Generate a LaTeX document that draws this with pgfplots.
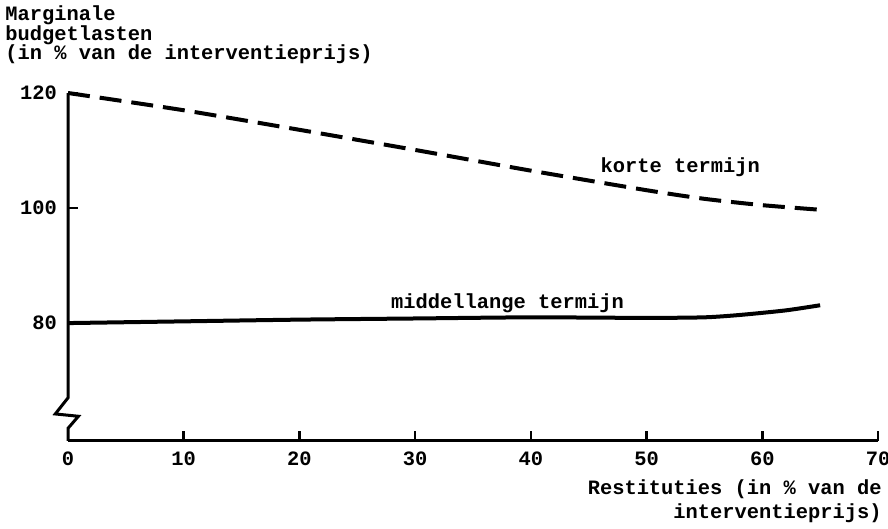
\documentclass[border=0pt]{standalone}
\usepackage{fontspec}
\setmainfont{Liberation Mono}
\usepackage{pgfplots}
\pgfplotsset{compat=1.18}
\begin{document}
\fontsize{10.2}{10}\selectfont\bfseries
\begin{tikzpicture}
\begin{axis}[
  name=main,
  scale only axis, width=405pt, height=174pt,
  xmin=0, xmax=70, ymin=59.5, ymax=120,
  axis x line*=bottom, axis y line*=left,
  axis line style={-, line width=1.5pt},
  y axis line style={draw=none},
  xtick={0,10,...,70}, ytick={80,100,120},
  tick align=inside, major tick length=5pt,
  tick style={line width=1.3pt, black},
  /pgf/number format/assume math mode=true,
  ticklabel style={font=\fontsize{10.2}{10}\selectfont\bfseries},
  xticklabel style={yshift=-2pt},
  yticklabel style={xshift=-2pt},
  clip=false,
]
\draw[line width=1.5pt, line join=miter]
  (axis cs:0,120) -- (axis cs:0,67) -- (axis cs:-1.1,64.2) -- (axis cs:0.9,63.8) -- (axis cs:0,61.7) -- (axis cs:0,59.5);
\addplot[black, line width=2pt, dash pattern=on 11pt off 5pt, smooth, tension=0.4] coordinates {
  (0,120) (10,117) (20,113.6) (30,110.1) (40,106.5) (50,103.1) (55,101.6) (60,100.5) (65,99.7)
};
\addplot[black, line width=2pt, smooth, tension=0.4] coordinates {
  (0,80) (10,80.3) (20,80.6) (30,80.8) (40,81) (50,80.9) (55,81) (58,81.4) (62,82.2) (65,83.1)
};
\node[anchor=base west, inner sep=0] at (axis cs:46,106.1) {korte termijn};
\node[anchor=base west, inner sep=0] at (axis cs:27.9,82.6) {middellange termijn};
\node[anchor=base west, inner sep=0] at ([xshift=-31.5pt,yshift=36pt]rel axis cs:0,1) {Marginale};
\node[anchor=base west, inner sep=0] at ([xshift=-31.5pt,yshift=26pt]rel axis cs:0,1) {budgetlasten};
\node[anchor=base west, inner sep=0] at ([xshift=-31.5pt,yshift=17pt]rel axis cs:0,1) {(in \% van de interventieprijs)};
\node[anchor=base east, inner sep=0] at ([xshift=2pt,yshift=-27pt]rel axis cs:1,0) {Restituties (in \% van de};
\node[anchor=base east, inner sep=0] at ([xshift=2pt,yshift=-38.5pt]rel axis cs:1,0) {interventieprijs)};
\coordinate (ll) at (rel axis cs:0,0);
\coordinate (ur) at (rel axis cs:1,1);
\end{axis}
\pgfresetboundingbox
\path ([shift={(-34pt,-44pt)}]ll) rectangle ([shift={(5pt,46.5pt)}]ur);
\end{tikzpicture}
\end{document}
